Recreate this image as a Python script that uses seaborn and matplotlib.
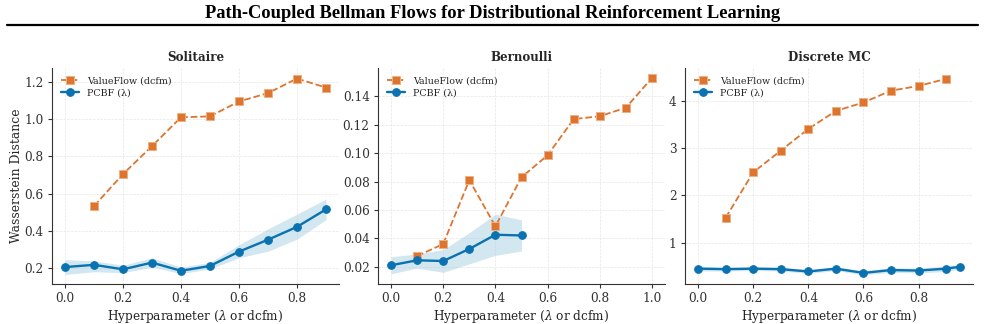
import numpy as np
import pandas as pd
import matplotlib.pyplot as plt
import seaborn as sns
from matplotlib.lines import Line2D

# ─────────────────────────────────────────────
# Hyperparameter sweep — PCBF (lambda) vs ValueFlow (dcfm)
# ─────────────────────────────────────────────

VF_COLOR   = "#DD7430"
PCBF_COLOR = "#0A72B0"
BAND_COLOR = "#9ECAE1"

# Solitaire
sol_pcbf_x  = [0.0, 0.1, 0.2, 0.3, 0.4, 0.5, 0.6, 0.7, 0.8, 0.9]
sol_pcbf_y  = [0.205, 0.217, 0.193, 0.229, 0.185, 0.211, 0.288, 0.352, 0.421, 0.515]
sol_pcbf_lo = [0.165, 0.180, 0.175, 0.205, 0.170, 0.195, 0.255, 0.290, 0.355, 0.460]
sol_pcbf_hi = [0.245, 0.238, 0.215, 0.255, 0.205, 0.230, 0.325, 0.410, 0.490, 0.570]
sol_vf_x    = [0.1, 0.2, 0.3, 0.4, 0.5, 0.6, 0.7, 0.8, 0.9]
sol_vf_y    = [0.533, 0.705, 0.855, 1.010, 1.015, 1.095, 1.140, 1.218, 1.170]

# Bernoulli
ber_pcbf_x  = [0.0, 0.1, 0.2, 0.3, 0.4, 0.5]
ber_pcbf_y  = [0.021, 0.0245, 0.024, 0.0325, 0.0425, 0.042]
ber_pcbf_lo = [0.015, 0.019, 0.016, 0.022, 0.028, 0.031]
ber_pcbf_hi = [0.027, 0.029, 0.032, 0.044, 0.057, 0.053]
ber_vf_x    = [0.1, 0.2, 0.3, 0.4, 0.5, 0.6, 0.7, 0.8, 0.9, 1.0]
ber_vf_y    = [0.0275, 0.036, 0.081, 0.0485, 0.083, 0.0985, 0.124, 0.126, 0.132, 0.153]

# Discrete MC
dmc_pcbf_x  = [0.0, 0.1, 0.2, 0.3, 0.4, 0.5, 0.6, 0.7, 0.8, 0.9, 0.95]
dmc_pcbf_y  = [0.45, 0.44, 0.45, 0.44, 0.39, 0.45, 0.36, 0.42, 0.41, 0.45, 0.49]
dmc_pcbf_lo = [0.40, 0.40, 0.41, 0.40, 0.35, 0.41, 0.32, 0.37, 0.36, 0.39, 0.44]
dmc_pcbf_hi = [0.50, 0.48, 0.49, 0.48, 0.43, 0.49, 0.40, 0.47, 0.46, 0.51, 0.54]
dmc_vf_x    = [0.1, 0.2, 0.3, 0.4, 0.5, 0.6, 0.7, 0.8, 0.9]
dmc_vf_y    = [1.53, 2.49, 2.95, 3.41, 3.79, 3.97, 4.22, 4.32, 4.47]

sns.set_style("ticks")
plt.rcParams["font.family"] = ["DejaVu Serif"]
plt.rcParams["mathtext.fontset"] = "dejavuserif"

W, H = 985, 324
fig = plt.figure(figsize=(W / 100, H / 100), dpi=100)
# axes boxes in pixels: left, right (bottom spine at 284, top at 68)
boxes = [(52, 339), (378, 665), (685, 973)]
axes = [fig.add_axes([l / W, 1 - 284 / H, (r - l) / W, (284 - 68) / H]) for l, r in boxes]

# paper header
fig.text(0.5, 0.958, "Path-Coupled Bellman Flows for Distributional Reinforcement Learning",
         ha="center", va="center", fontsize=13.3, fontweight="bold",
         family="Liberation Serif", color="black")
fig.add_artist(Line2D([0.007, 0.993], [0.922, 0.922], color="black", linewidth=1.6,
                      transform=fig.transFigure))


def draw_panel(ax, title, px, py, plo, phi, vx, vy, yticks, fmt):
    vf = pd.DataFrame({"x": vx, "y": vy})
    pc = pd.DataFrame({"x": px, "y": py})
    ax.fill_between(px, plo, phi, color=BAND_COLOR, alpha=0.45, linewidth=0)
    sns.lineplot(data=vf, x="x", y="y", ax=ax, color=VF_COLOR, linestyle="--",
                 linewidth=1.3, marker="s", markersize=6, markeredgecolor="#F0B080",
                 markeredgewidth=0.7, label="ValueFlow (dcfm)")
    sns.lineplot(data=pc, x="x", y="y", ax=ax, color=PCBF_COLOR, linewidth=1.7,
                 marker="o", markersize=5.5, markeredgecolor=PCBF_COLOR,
                 label="PCBF (\u03bb)")
    ax.set_title(title, fontsize=8.6, fontweight="bold", pad=5)
    ax.set_xlabel("Hyperparameter ($\\lambda$ or dcfm)", fontsize=8.7, labelpad=2)
    ax.set_ylabel("")
    ax.set_yticks(yticks)
    ax.set_yticklabels([fmt.format(t) for t in yticks])
    ax.grid(True, linestyle="--", linewidth=0.5, color="#e6e6e6")
    ax.tick_params(labelsize=8.7, length=3, pad=3, colors="#333333", labelcolor="#333333")
    ax.spines["top"].set_visible(False)
    ax.spines["right"].set_visible(False)
    for s in ["left", "bottom"]:
        ax.spines[s].set_color("#333333")
    ax.legend(loc="upper left", frameon=False, fontsize=6.8, handlelength=2.0,
              borderaxespad=0.5, labelspacing=0.3)


draw_panel(axes[0], "Solitaire", sol_pcbf_x, sol_pcbf_y, sol_pcbf_lo, sol_pcbf_hi,
           sol_vf_x, sol_vf_y, [0.2, 0.4, 0.6, 0.8, 1.0, 1.2], "{:.1f}")
axes[0].set_ylim(0.114, 1.275)
axes[0].set_xticks([0.0, 0.2, 0.4, 0.6, 0.8])
axes[0].set_ylabel("Wasserstein Distance", fontsize=8.9)
axes[0].yaxis.set_label_coords(-0.10, 0.5)

draw_panel(axes[1], "Bernoulli", ber_pcbf_x, ber_pcbf_y, ber_pcbf_lo, ber_pcbf_hi,
           ber_vf_x, ber_vf_y, [0.02, 0.04, 0.06, 0.08, 0.10, 0.12, 0.14], "{:.2f}")
axes[1].set_ylim(0.0078, 0.160)
axes[1].set_xticks([0.0, 0.2, 0.4, 0.6, 0.8, 1.0])

draw_panel(axes[2], "Discrete MC", dmc_pcbf_x, dmc_pcbf_y, dmc_pcbf_lo, dmc_pcbf_hi,
           dmc_vf_x, dmc_vf_y, [1, 2, 3, 4], "{:d}")
axes[2].set_ylim(0.125, 4.70)
axes[2].set_xticks([0.0, 0.2, 0.4, 0.6, 0.8])

plt.savefig("out.png", dpi=100)
plt.close()
